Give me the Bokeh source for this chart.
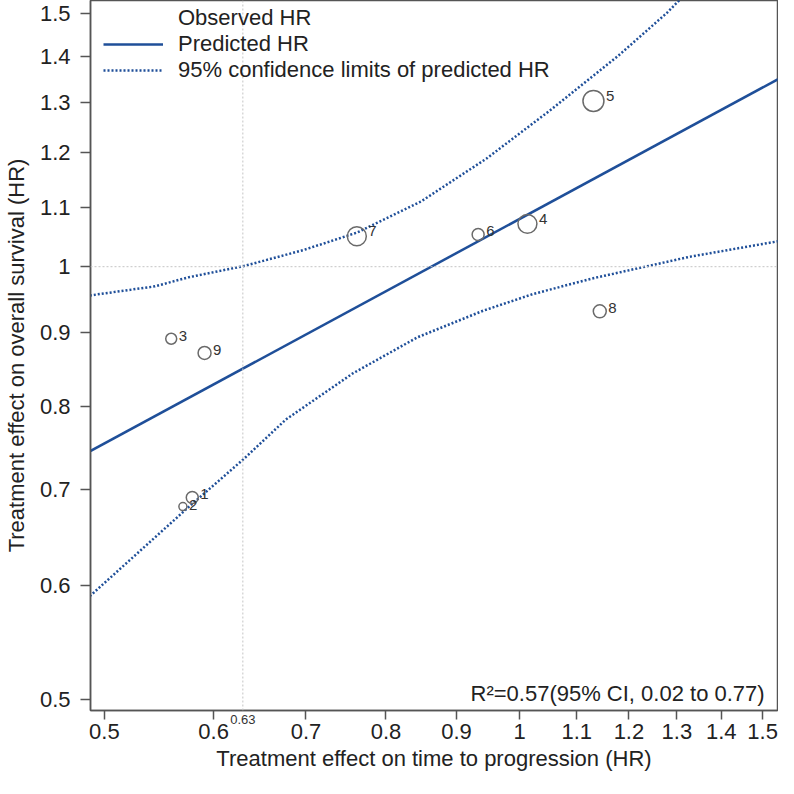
import numpy as np
from bokeh.plotting import figure
from bokeh.models import (Range1d, FixedTicker, NumeralTickFormatter, Span, Label,
                          Legend, LegendItem, ColumnDataSource, LogAxis)
from bokeh.embed import file_html
from bokeh.resources import INLINE
from bokeh.core.properties import value

# ---------------- data ----------------
trial_labels = ["1", "2", "3", "4", "5", "6", "7", "8", "9"]
ttp_hr = [0.579, 0.570, 0.559, 1.013, 1.131, 0.933, 0.762, 1.143, 0.591]
os_hr = [0.691, 0.681, 0.891, 1.071, 1.304, 1.053, 1.050, 0.931, 0.871]
trial_weight = [36, 16, 30, 90, 110, 36, 90, 42, 42]

pred_ttp = [0.488, 1.543]
pred_os = [0.744, 1.352]

upper_ttp = [0.488, 0.544, 0.575, 0.631, 0.697, 0.762, 0.848, 0.946, 1.056, 1.178, 1.279, 1.317]
upper_os = [0.955, 0.969, 0.983, 1.001, 1.027, 1.056, 1.110, 1.189, 1.288, 1.401, 1.502, 1.546]

lower_ttp = [0.488, 0.575, 0.631, 0.677, 0.757, 0.843, 0.941, 1.022, 1.127, 1.328, 1.543]
lower_os = [0.590, 0.680, 0.735, 0.783, 0.843, 0.893, 0.932, 0.957, 0.981, 1.016, 1.042]

tick_values = [0.5, 0.6, 0.7, 0.8, 0.9, 1.0, 1.1, 1.2, 1.3, 1.4, 1.5]
surrogate_threshold = 0.63
null_hr = 1.0
r2_text = "R\u00b2=0.57(95% CI, 0.02 to 0.77)"

# ---------------- styling ----------------
FONT = "Liberation Sans"
BLUE = "#1f4f99"
GREY = "#6a6a6a"
FRAME = "#555555"
FS = "22px"

p = figure(width=778, height=778, x_axis_type="log", y_axis_type="log",
           x_range=Range1d(0.48855, 1.5377), y_range=Range1d(0.49127, 1.5316),
           output_backend="svg", toolbar_location=None, title=None,
           min_border_left=84, min_border_right=1, min_border_top=0, min_border_bottom=68)

p.xgrid.visible = False
p.ygrid.visible = False
p.outline_line_color = FRAME
p.outline_line_width = 1.5
p.background_fill_color = "white"

for ax in (p.xaxis[0], p.yaxis[0]):
    ax.ticker = FixedTicker(ticks=tick_values, minor_ticks=[])
    ax.formatter = NumeralTickFormatter(format="0.[0]")
    ax.major_tick_in = 0
    ax.minor_tick_out = 0
    ax.minor_tick_in = 0
    ax.axis_line_color = FRAME
    ax.axis_line_width = 1.5
    ax.major_tick_line_color = FRAME
    ax.major_tick_line_width = 1.5
    ax.major_label_text_font = FONT
    ax.major_label_text_font_size = FS
    ax.major_label_text_color = "#222222"
    ax.axis_label_text_font = FONT
    ax.axis_label_text_font_size = FS
    ax.axis_label_text_font_style = "normal"
    ax.axis_label_text_color = "#222222"

p.xaxis.axis_label = "Treatment effect on time to progression (HR)"
p.yaxis.axis_label = "Treatment effect on overall survival (HR)"
p.xaxis.major_tick_out = 9
p.yaxis.major_tick_out = 10
p.xaxis.major_label_standoff = 4
p.xaxis.axis_label_standoff = 4
p.yaxis.major_label_standoff = 10
p.yaxis.axis_label_standoff = 8

# small "0.63" marker label just under the frame (extra axis pulled up)
thr_axis = LogAxis(ticker=FixedTicker(ticks=[surrogate_threshold], minor_ticks=[]),
                   formatter=NumeralTickFormatter(format="0.00"),
                   axis_line_alpha=0, major_tick_out=0, major_tick_in=0,
                   minor_tick_out=0, minor_tick_in=0,
                   major_label_standoff=-59,
                   major_label_text_font=FONT, major_label_text_font_size="13px",
                   major_label_text_color="#333333")
p.add_layout(thr_axis, "below")

# reference lines
p.add_layout(Span(location=surrogate_threshold, dimension="height", line_color="#c4c4c4",
                  line_width=1, line_dash="2 2"))
p.add_layout(Span(location=null_hr, dimension="width", line_color="#c4c4c4",
                  line_width=1, line_dash="2 2"))

# predicted line and confidence limits
pred_r = p.line(pred_ttp, pred_os, line_color=BLUE, line_width=2.5)
upper_r = p.line(upper_ttp, upper_os, line_color=BLUE, line_width=2.5, line_dash="2 2")
p.line(lower_ttp, lower_os, line_color=BLUE, line_width=2.5, line_dash="2 2")

# observed trials
sizes = [2.0 * np.sqrt(w) for w in trial_weight]
src = ColumnDataSource(dict(x=ttp_hr, y=os_hr, label=trial_labels, size=sizes,
                            xo=[s / 2 + 2 for s in sizes], yo=[-s / 4 for s in sizes]))
p.scatter("x", "y", size="size", source=src, marker="circle", fill_alpha=0,
          line_color=GREY, line_width=1.5)
p.text("x", "y", text="label", x_offset="xo", y_offset="yo", source=src,
       text_font=value(FONT), text_font_size="15px", text_color="#333333",
       text_baseline="middle", text_align="left")

# legend
lg_obs = p.scatter(x=[], y=[], marker="circle", size=10, fill_alpha=0,
                   line_color=GREY, line_width=1.5)
legend = Legend(items=[LegendItem(label="Observed HR", renderers=[lg_obs]),
                       LegendItem(label="Predicted HR", renderers=[pred_r]),
                       LegendItem(label="95% confidence limits of predicted HR", renderers=[upper_r])],
                location=(13, 627), padding=0, margin=0, spacing=-1,
                glyph_width=60, glyph_height=24, label_height=24, label_standoff=15,
                label_text_font=FONT, label_text_font_size=FS, label_text_color="#222222",
                background_fill_alpha=0, border_line_alpha=0)
p.add_layout(legend)

# annotation
p.add_layout(Label(x=1.505, y=0.5048, text=r2_text, text_align="right", text_baseline="middle",
                   text_font=FONT, text_font_size=FS, text_color="#222222"))

open("out.html", "w").write(file_html(p, INLINE))
